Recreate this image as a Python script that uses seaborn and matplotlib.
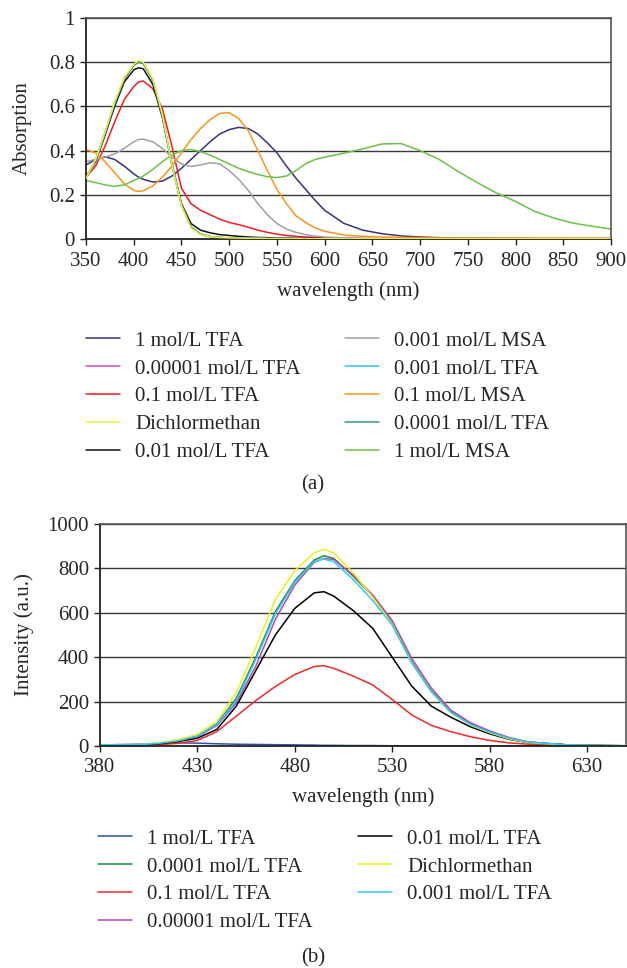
import numpy as np
import pandas as pd
import matplotlib
matplotlib.use('Agg')
import matplotlib.pyplot as plt
import seaborn as sns

# absorption spectra (a)
wl_a = [350, 360, 370, 380, 390, 400, 405, 410, 420, 430, 440, 450, 460, 470, 480, 490,
        500, 510, 520, 530, 540, 550, 560, 570, 580, 590, 600, 620, 640, 660, 680, 700,
        720, 740, 760, 780, 800, 820, 840, 860, 880, 900]

abs_tfa_1 = [0.335, 0.36, 0.372, 0.36, 0.33, 0.295, 0.28, 0.27, 0.258, 0.262, 0.285, 0.32, 0.36, 0.40,
             0.44, 0.475, 0.495, 0.505, 0.50, 0.475, 0.435, 0.39, 0.33, 0.275, 0.225, 0.175, 0.13, 0.071,
             0.04, 0.024, 0.014, 0.009, 0.006, 0.005, 0.004, 0.003, 0.003, 0.002, 0.002, 0.002, 0.002, 0.002]
abs_tfa_00001 = [0.275, 0.355, 0.48, 0.615, 0.725, 0.788, 0.80, 0.795, 0.72, 0.56, 0.335, 0.155, 0.055,
                 0.022, 0.011, 0.007, 0.005, 0.004, 0.003, 0.003, 0.002, 0.002, 0.002, 0.001, 0.001, 0.001,
                 0.001, 0.001, 0.001, 0.001, 0.001, 0.001, 0.001, 0.001, 0.001, 0.001, 0.001, 0.001, 0.001,
                 0.001, 0.001, 0.001]
abs_tfa_01 = [0.28, 0.33, 0.42, 0.53, 0.63, 0.69, 0.71, 0.715, 0.68, 0.59, 0.42, 0.23, 0.16, 0.13, 0.11,
              0.09, 0.075, 0.065, 0.053, 0.04, 0.03, 0.022, 0.016, 0.012, 0.009, 0.007, 0.005, 0.003, 0.002,
              0.001, 0.001, 0.001, 0.001, 0.001, 0.001, 0.001, 0.001, 0.001, 0.001, 0.001, 0.001, 0.001]
abs_dcm = [0.275, 0.36, 0.485, 0.62, 0.73, 0.79, 0.808, 0.80, 0.725, 0.565, 0.335, 0.15, 0.05, 0.02,
           0.01, 0.007, 0.005, 0.004, 0.003, 0.003, 0.002, 0.002, 0.002, 0.001, 0.001, 0.001, 0.001,
           0.001, 0.001, 0.001, 0.001, 0.001, 0.001, 0.001, 0.001, 0.001, 0.001, 0.001, 0.001, 0.001,
           0.001, 0.001]
abs_tfa_001 = [0.28, 0.35, 0.47, 0.60, 0.71, 0.765, 0.775, 0.77, 0.70, 0.55, 0.34, 0.16, 0.07, 0.04, 0.028,
               0.02, 0.016, 0.012, 0.009, 0.007, 0.006, 0.005, 0.004, 0.003, 0.003, 0.002, 0.002, 0.002,
               0.001, 0.001, 0.001, 0.001, 0.001, 0.001, 0.001, 0.001, 0.001, 0.001, 0.001, 0.001, 0.001, 0.001]
abs_msa_0001 = [0.35, 0.36, 0.37, 0.385, 0.41, 0.44, 0.45, 0.452, 0.44, 0.41, 0.37, 0.34, 0.328, 0.335,
                0.345, 0.34, 0.31, 0.27, 0.22, 0.16, 0.11, 0.07, 0.045, 0.03, 0.02, 0.013, 0.009, 0.005,
                0.003, 0.002, 0.001, 0.001, 0.001, 0.001, 0.001, 0.001, 0.001, 0.001, 0.001, 0.001, 0.001, 0.001]
abs_tfa_0001 = [0.275, 0.355, 0.48, 0.612, 0.722, 0.785, 0.80, 0.794, 0.718, 0.557, 0.333, 0.153, 0.054,
                0.022, 0.011, 0.007, 0.005, 0.004, 0.003, 0.003, 0.002, 0.002, 0.002, 0.001, 0.001, 0.001,
                0.001, 0.001, 0.001, 0.001, 0.001, 0.001, 0.001, 0.001, 0.001, 0.001, 0.001, 0.001, 0.001,
                0.001, 0.001, 0.001]
abs_msa_01 = [0.405, 0.39, 0.35, 0.30, 0.25, 0.22, 0.215, 0.218, 0.24, 0.28, 0.33, 0.39, 0.45, 0.50, 0.54,
              0.568, 0.572, 0.545, 0.49, 0.40, 0.31, 0.225, 0.16, 0.105, 0.075, 0.05, 0.035, 0.018, 0.012,
              0.009, 0.007, 0.006, 0.005, 0.005, 0.005, 0.004, 0.004, 0.004, 0.004, 0.004, 0.004, 0.004]
abs_tfa_00001b = [0.275, 0.356, 0.481, 0.616, 0.726, 0.788, 0.803, 0.797, 0.722, 0.561, 0.336, 0.154, 0.055,
                  0.022, 0.011, 0.007, 0.005, 0.004, 0.003, 0.003, 0.002, 0.002, 0.002, 0.001, 0.001, 0.001,
                  0.001, 0.001, 0.001, 0.001, 0.001, 0.001, 0.001, 0.001, 0.001, 0.001, 0.001, 0.001, 0.001,
                  0.001, 0.001, 0.001]
abs_msa_1 = [0.265, 0.255, 0.245, 0.238, 0.245, 0.265, 0.275, 0.285, 0.315, 0.35, 0.38, 0.40, 0.405, 0.395,
             0.38, 0.36, 0.34, 0.32, 0.305, 0.292, 0.282, 0.278, 0.285, 0.31, 0.34, 0.36, 0.37, 0.388, 0.408,
             0.43, 0.432, 0.40, 0.36, 0.305, 0.255, 0.208, 0.17, 0.125, 0.095, 0.072, 0.058, 0.045]

# emission spectra (b)
wl_b = [380, 400, 410, 420, 430, 440, 450, 460, 470, 480, 490, 495, 500, 510, 520, 530, 540, 550,
        560, 570, 580, 590, 600, 620, 640, 650]

em_tfa_1 = [3, 6, 10, 14, 13, 10, 8, 7, 6, 5, 4, 3, 3, 2, 2, 1, 1, 1, 1, 1, 1, 1, 1, 1, 1, 1]
em_tfa_0001 = [5, 7, 12, 24, 45, 100, 215, 400, 605, 745, 838, 857, 845, 765, 675, 555, 380, 250, 155,
               100, 65, 36, 18, 5, 2, 1]
em_tfa_01 = [3, 4, 6, 12, 25, 65, 135, 205, 268, 322, 358, 362, 350, 315, 275, 210, 140, 93, 65, 42, 25,
             14, 8, 3, 1, 1]
em_tfa_00001 = [5, 7, 12, 22, 42, 92, 195, 360, 570, 725, 828, 845, 840, 770, 680, 565, 395, 262, 162,
                106, 68, 38, 18, 5, 2, 1]
em_tfa_001 = [4, 6, 10, 20, 35, 75, 180, 340, 500, 620, 690, 695, 675, 610, 530, 400, 270, 180, 130, 87,
              55, 30, 15, 5, 2, 1]
em_dcm = [5, 7, 14, 28, 52, 110, 240, 445, 660, 790, 870, 886, 870, 780, 670, 550, 375, 245, 150, 95,
          60, 32, 15, 4, 2, 1]
em_tfa_0001b = [5, 7, 12, 23, 44, 97, 205, 390, 595, 738, 832, 842, 830, 750, 655, 545, 375, 245, 152,
                98, 63, 35, 17, 5, 2, 1]

series_a = [
    ('1 mol/L TFA', abs_tfa_1, '#33337F'),
    ('0.00001 mol/L TFA', abs_tfa_00001b, '#C64FBF'),
    ('0.1 mol/L TFA', abs_tfa_01, '#EE1C24'),
    ('Dichlormethan', abs_dcm, '#EEEE44'),
    ('0.01 mol/L TFA', abs_tfa_001, '#111111'),
    ('0.001 mol/L MSA', abs_msa_0001, '#A0A0A0'),
    ('0.001 mol/L TFA', abs_tfa_00001, '#33C3EE'),
    ('0.1 mol/L MSA', abs_msa_01, '#F7941D'),
    ('0.0001 mol/L TFA', abs_tfa_0001, '#3A9A70'),
    ('1 mol/L MSA', abs_msa_1, '#6CC04A'),
]
series_b = [
    ('1 mol/L TFA', em_tfa_1, '#3050B0'),
    ('0.0001 mol/L TFA', em_tfa_0001, '#1E8B3E'),
    ('0.1 mol/L TFA', em_tfa_01, '#EE2A2A'),
    ('0.00001 mol/L TFA', em_tfa_00001, '#B04AB0'),
    ('0.01 mol/L TFA', em_tfa_001, '#000000'),
    ('Dichlormethan', em_dcm, '#EEEE22'),
    ('0.001 mol/L TFA', em_tfa_0001b, '#33C8F0'),
]

sns.set_theme(style='white')
plt.rcParams['font.family'] = ['Liberation Serif', 'DejaVu Serif']
FS = 15

W, H = 627, 968
fig = plt.figure(figsize=(W / 100, H / 100), dpi=100)


def px_axes(l, t, r, b):
    return fig.add_axes([l / W, 1 - b / H, (r - l) / W, (b - t) / H])


def style(ax, yticks):
    ax.set_yticks(yticks)
    ax.grid(False)
    for y in yticks[1:]:
        ax.axhline(y, color='#3a3a3a', lw=1.0, zorder=0)
    for s in ['left', 'bottom']:
        ax.spines[s].set_color('#222222')
        ax.spines[s].set_linewidth(1.3)
    for s in ['top', 'right']:
        ax.spines[s].set_color('#555555')
        ax.spines[s].set_linewidth(1.2)
    ax.tick_params(axis='both', labelsize=FS, length=4, width=1, color='#222222', direction='out',
                   bottom=True, left=True)
    ax.tick_params(axis='x', pad=5)
    ax.tick_params(axis='y', pad=4)


def legend_col(handles, x, y):
    fig.legend(handles=handles, loc='upper left', bbox_to_anchor=(x / W, 1 - y / H),
               frameon=False, fontsize=FS, handlelength=1.65, handletextpad=0.72,
               labelspacing=0.4, borderpad=0, borderaxespad=0)


# panel (a)
ax1 = px_axes(86, 18, 611, 239)
for label, vals, col in series_a:
    z = 3 if label == 'Dichlormethan' else 2
    sns.lineplot(x=wl_a, y=vals, color=col, lw=1.1, ax=ax1, label=label, legend=False, zorder=z)
ax1.set_xlim(350, 900)
ax1.set_ylim(0, 1)
ax1.set_xticks(range(350, 901, 50))
style(ax1, [0, 0.2, 0.4, 0.6, 0.8, 1])
ax1.set_yticklabels(['0', '0.2', '0.4', '0.6', '0.8', '1'])
ax1.set_xlabel('wavelength (nm)', fontsize=FS, labelpad=8)
ax1.set_ylabel('Absorption', fontsize=FS, labelpad=12)
lines_a = ax1.get_lines()[:len(series_a)]
legend_col(lines_a[:5], 86, 331)
legend_col(lines_a[5:], 345, 331)
fig.text(313 / W, 1 - 485 / H, '(a)', ha='center', va='center', fontsize=FS)

# panel (b)
ax2 = px_axes(100, 524, 626, 746)
for label, vals, col in series_b:
    sns.lineplot(x=wl_b, y=vals, color=col, lw=1.1, ax=ax2, label=label, legend=False)
ax2.set_xlim(380, 650)
ax2.set_ylim(0, 1000)
ax2.set_xticks(range(380, 631, 50))
style(ax2, [0, 200, 400, 600, 800, 1000])
ax2.set_xlabel('wavelength (nm)', fontsize=FS, labelpad=7)
ax2.set_ylabel('Intensity (a.u.)', fontsize=FS, labelpad=10)
lines_b = ax2.get_lines()[:len(series_b)]
legend_col(lines_b[:4], 98, 829)
legend_col(lines_b[4:], 358, 829)
fig.text(313 / W, 1 - 958 / H, '(b)', ha='center', va='center', fontsize=FS)

fig.savefig('out.png', dpi=100)
